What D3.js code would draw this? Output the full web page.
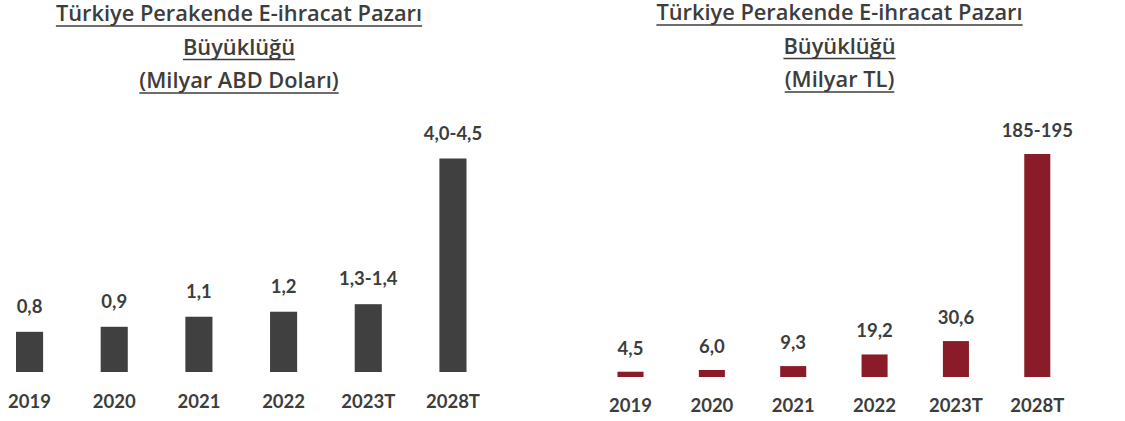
<!DOCTYPE html>
<html>
<head>
<meta charset="utf-8">
<script src="https://cdn.jsdelivr.net/npm/d3@7"></script>
<style>
  html, body { margin: 0; padding: 0; background: #ffffff; }
  svg { display: block; }
</style>
</head>
<body>
<svg id="chart" width="1125" height="421"></svg>
<script>
// Years shown on both panels
const years = ["2019", "2020", "2021", "2022", "2023T", "2028T"];

// Market size in billion USD (ranges given as low/high)
const usdLow  = [0.8, 0.9, 1.1, 1.2, 1.3, 4.0];
const usdHigh = [0.8, 0.9, 1.1, 1.2, 1.4, 4.5];

// Market size in billion TL (ranges given as low/high)
const tlLow  = [4.5, 6.0, 9.3, 19.2, 30.6, 185];
const tlHigh = [4.5, 6.0, 9.3, 19.2, 30.6, 195];

// Title lines
const usdTitle = ["Türkiye Perakende E-ihracat Pazarı", "Büyüklüğü", "(Milyar ABD Doları)"];
const tlTitle  = ["Türkiye Perakende E-ihracat Pazarı", "Büyüklüğü", "(Milyar TL)"];

const fmt = v => d3.format(".1f")(v).replace(".", ",");
const fmtInt = v => String(Math.round(v));
const rangeLabel = (lo, hi, f) => lo === hi ? f(lo) : f(lo) + "-" + f(hi);

const svg = d3.select("#chart");
const textColor = "#3d3d3d";
const labelFont = "Lato, 'Open Sans', sans-serif";
const titleFont = "'Open Sans', Lato, sans-serif";

function panel(cfg) {
  const g = svg.append("g");

  // Title, centred and underlined
  const title = g.append("g");
  cfg.title.forEach((line, i) => {
    const t = title.append("text")
      .attr("x", cfg.titleX)
      .attr("y", cfg.titleY + i * 33.5)
      .attr("text-anchor", "middle")
      .style("font-family", titleFont)
      .style("font-size", "21.8px")
      .style("font-weight", 600)
      .attr("fill", textColor)
      .text(line);
    const w = t.node().getComputedTextLength();
    title.append("line")
      .attr("x1", cfg.titleX - w / 2)
      .attr("x2", cfg.titleX + w / 2)
      .attr("y1", cfg.titleY + i * 33.5 + 5)
      .attr("y2", cfg.titleY + i * 33.5 + 5)
      .attr("stroke", textColor)
      .attr("stroke-width", 1.6);
  });

  const data = years.map((y, i) => ({
    year: y,
    lo: cfg.low[i],
    hi: cfg.high[i],
    mid: (cfg.low[i] + cfg.high[i]) / 2
  }));

  const x = d3.scaleBand()
    .domain(years)
    .range(cfg.xRange)
    .paddingInner(0.68)
    .paddingOuter(0);

  const y = d3.scaleLinear()
    .domain(cfg.yDomain)
    .range(cfg.yRange);

  g.selectAll("rect.bar")
    .data(data)
    .join("rect")
    .attr("class", "bar")
    .attr("x", d => x(d.year))
    .attr("width", x.bandwidth())
    .attr("y", d => y(d.mid))
    .attr("height", d => y(0) - y(d.mid))
    .attr("fill", cfg.color);

  g.selectAll("text.val")
    .data(data)
    .join("text")
    .attr("class", "val")
    .attr("x", d => x(d.year) + x.bandwidth() / 2)
    .attr("y", d => y(d.mid) - cfg.labelGap)
    .attr("text-anchor", "middle")
    .style("font-family", labelFont)
    .style("font-size", "18.5px")
    .style("font-weight", 700)
    .attr("fill", textColor)
    .text(d => rangeLabel(d.lo, d.hi, cfg.format));

  const axis = g.append("g")
    .attr("transform", `translate(0,${cfg.axisY})`)
    .call(d3.axisBottom(x).tickSize(0).tickPadding(0));
  axis.select(".domain").remove();
  axis.selectAll("text")
    .style("font-family", labelFont)
    .style("font-size", "18.5px")
    .style("font-weight", 700)
    .attr("fill", textColor)
    .attr("dy", 0);
}

panel({
  title: usdTitle,
  titleX: 239, titleY: 21,
  low: usdLow, high: usdHigh,
  xRange: [16, 466.5],
  yDomain: [0, 4.25], yRange: [372, 158.5],
  color: "#404040",
  labelGap: 19,
  format: fmt,
  axisY: 408
});

panel({
  title: tlTitle,
  titleX: 839.5, titleY: 20,
  low: tlLow, high: tlHigh,
  xRange: [617.5, 1050.3],
  yDomain: [0, 190], yRange: [377, 154],
  color: "#8a1c29",
  labelGap: 17,
  format: v => Number.isInteger(v) && v > 100 ? fmtInt(v) : fmt(v),
  axisY: 411.5
});
</script>
</body>
</html>
